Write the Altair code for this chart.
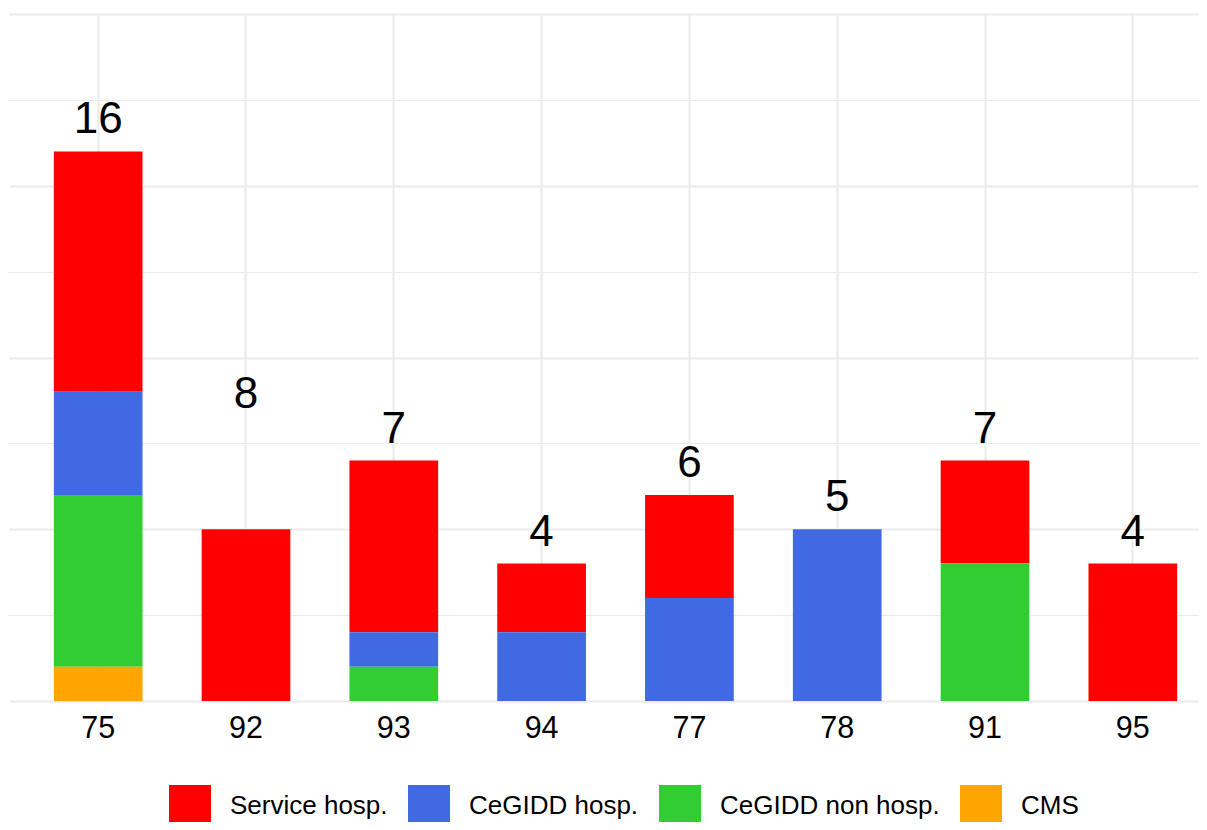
import altair as alt
import pandas as pd

# ---- data ----
depts = ["75", "92", "93", "94", "77", "78", "91", "95"]
categories = ["Service hosp.", "CeGIDD hosp.", "CeGIDD non hosp.", "CMS"]
colors = ["#FF0000", "#4169E1", "#32CD32", "#FFA500"]
service_hosp = [7, 5, 5, 2, 3, 0, 3, 4]
cegidd_hosp = [3, 0, 1, 2, 3, 5, 0, 0]
cegidd_non_hosp = [5, 0, 1, 0, 0, 0, 4, 0]
cms = [1, 0, 0, 0, 0, 0, 0, 0]
totals = [16, 8, 7, 4, 6, 5, 7, 4]

series = {
    "Service hosp.": service_hosp,
    "CeGIDD hosp.": cegidd_hosp,
    "CeGIDD non hosp.": cegidd_non_hosp,
    "CMS": cms,
}
# stacking rank: CMS at the bottom, Service hosp. on top
stack_rank = {"CMS": 0, "CeGIDD non hosp.": 1, "CeGIDD hosp.": 2, "Service hosp.": 3}

rows = []
for cat, vals in series.items():
    for d, v in zip(depts, vals):
        rows.append({"dept": d, "cat": cat, "n": v, "rank": stack_rank[cat]})
bars_df = pd.DataFrame(rows)
labels_df = pd.DataFrame({"dept": depts, "total": totals})

FONT = "Liberation Sans"

x_scale = alt.Scale(domain=depts, range=[-0.5, 1211.5], paddingInner=0.4, paddingOuter=0.3)
y_scale = alt.Scale(domain=[0, 20], nice=False, zero=True)

x_axis = alt.Axis(grid=True, gridColor="#EBEBEB", gridWidth=2.2, bandPosition=0.5,
                  ticks=False, tickSize=0, domain=False, labelAngle=0,
                  labelFontSize=30.5, labelFont=FONT, labelColor="#000000",
                  labelBaseline="top", labelPadding=12)

bars = alt.Chart(bars_df).mark_bar(stroke=None).encode(
    x=alt.X("dept:N", scale=x_scale, sort=depts, title=None, axis=x_axis),
    y=alt.Y("n:Q", stack="zero", scale=y_scale, title=None,
            axis=alt.Axis(values=[0, 5, 10, 15, 20], grid=True, gridColor="#EBEBEB",
                          gridWidth=2.2, labels=False, ticks=False, domain=False)),
    color=alt.Color("cat:N", scale=alt.Scale(domain=categories, range=colors),
                    legend=alt.Legend(title=None, orient="none", legendX=159, legendY=771,
                                      direction="horizontal", columns=4,
                                      symbolType="square", symbolSize=1764,
                                      symbolStrokeWidth=0, symbolOpacity=1,
                                      labelFontSize=26, labelFont=FONT,
                                      labelColor="#000000", labelOffset=19,
                                      columnPadding=20, labelLimit=400)),
    order=alt.Order("rank:Q", sort="ascending"),
)

text = alt.Chart(labels_df).mark_text(
    fontSize=44, font=FONT, color="#000000", baseline="alphabetic", align="center", dy=-18
).encode(
    x=alt.X("dept:N", scale=x_scale, sort=depts, title=None, axis=x_axis),
    y=alt.Y("total:Q", scale=y_scale, title=None,
            axis=alt.Axis(orient="right", values=[2.5, 7.5, 12.5, 17.5], grid=True,
                          gridColor="#EBEBEB", gridWidth=1.1, labels=False,
                          ticks=False, domain=False)),
    text=alt.Text("total:Q"),
)

chart = alt.layer(bars, text).resolve_axis(y="independent").properties(
    width=1189,
    height=687,
    autosize=alt.AutoSizeParams(type="none"),
    padding={"left": 2, "top": 6, "right": 0, "bottom": 121},
    background="white",
).configure_view(stroke=None)

chart.save("out.html", embed_options={"renderer": "svg", "actions": False})
